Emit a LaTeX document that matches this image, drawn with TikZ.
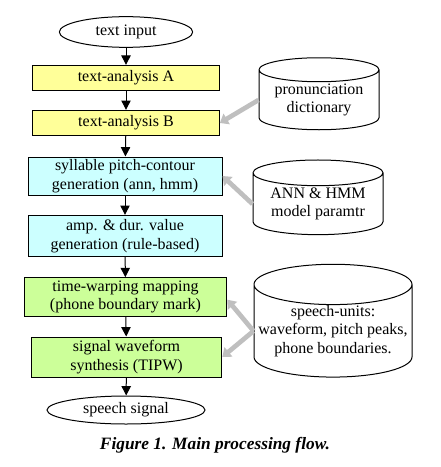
\documentclass[tikz,border=0pt]{standalone}
\usepackage{fontspec}
\setmainfont{Liberation Serif}
\usetikzlibrary{shapes.geometric,arrows.meta}
\definecolor{boxyellow}{RGB}{255,255,153}
\definecolor{boxcyan}{RGB}{204,255,255}
\definecolor{boxgreen}{RGB}{204,255,153}
\begin{document}
\begin{tikzpicture}[x=0.75pt,y=-0.75pt,
    every node/.style={font=\fontsize{12}{14}\selectfont, align=center, inner sep=0pt},
    stepbox/.style={draw, line width=0.75pt, rectangle},
    term/.style={draw, line width=0.75pt, ellipse},
    store/.style={draw, line width=0.75pt, cylinder, shape border rotate=90, aspect=0.27},
    flow/.style={-{Triangle[width=7pt,length=7pt]}, line width=0.75pt},
    feed/.style={-{Triangle[width=9pt,length=6pt]}, line width=3.5pt, gray!50}]

    \useasboundingbox (0,0) rectangle (440,467);

    % main chain
    \node[term, minimum width=100pt, minimum height=23pt] (tin) at (126,32) {text input};
    \node[stepbox, fill=boxyellow, minimum width=140pt, minimum height=19pt] (ta) at (126,78) {text-analysis A};
    \node[stepbox, fill=boxyellow, minimum width=140pt, minimum height=19pt] (tb) at (126,123) {text-analysis B};
    \node[stepbox, fill=boxcyan, minimum width=145.5pt, minimum height=28.5pt] (pc) at (125,176) {syllable pitch-contour\\generation (ann, hmm)};
    \node[stepbox, fill=boxcyan, minimum width=145.5pt, minimum height=31pt] (ad) at (125,236) {amp. \& dur. value\\generation (rule-based)};
    \node[stepbox, fill=boxgreen, minimum width=152pt, minimum height=29pt] (tw) at (125.5,297) {time-warping mapping\\(phone boundary mark)};
    \node[stepbox, fill=boxgreen, minimum width=143pt, minimum height=30pt] (sw) at (126.5,357) {signal waveform\\synthesis (TIPW)};
    \node[term, minimum width=118.5pt, minimum height=21pt] (sout) at (126,410) {speech signal};

    \draw[flow] (tin) -- (ta);
    \draw[flow] (ta) -- (tb);
    \draw[flow] (tb) -- (pc);
    \draw[flow] (pc) -- (ad);
    \draw[flow] (ad) -- (tw);
    \draw[flow] (tw) -- (sw);
    \draw[flow] (sw) -- (sout);

    % data stores
    \node[store, minimum width=90pt, minimum height=54pt] (dict) at (319,100) {pronunciation\\dictionary};
    \node[store, minimum width=97.5pt, minimum height=56pt] (model) at (318,204) {ANN \& HMM\\model paramtr};
    \node[store, minimum width=118.5pt, minimum height=83pt] (units) at (333,331) {speech-units:\\waveform, pitch peaks,\\phone boundaries.};

    \draw[feed] (dict.west) -- (tb.east);
    \draw[feed] (model.west) -- (pc.east);
    \draw[feed] (units.west) -- ([yshift=-2]tw.east);
    \draw[feed] (units.west) -- (sw.east);

    \node[font=\fontsize{13}{15}\selectfont\bfseries\itshape] (cap) at (215,445) {Figure 1. Main processing flow.};
\end{tikzpicture}
\end{document}
